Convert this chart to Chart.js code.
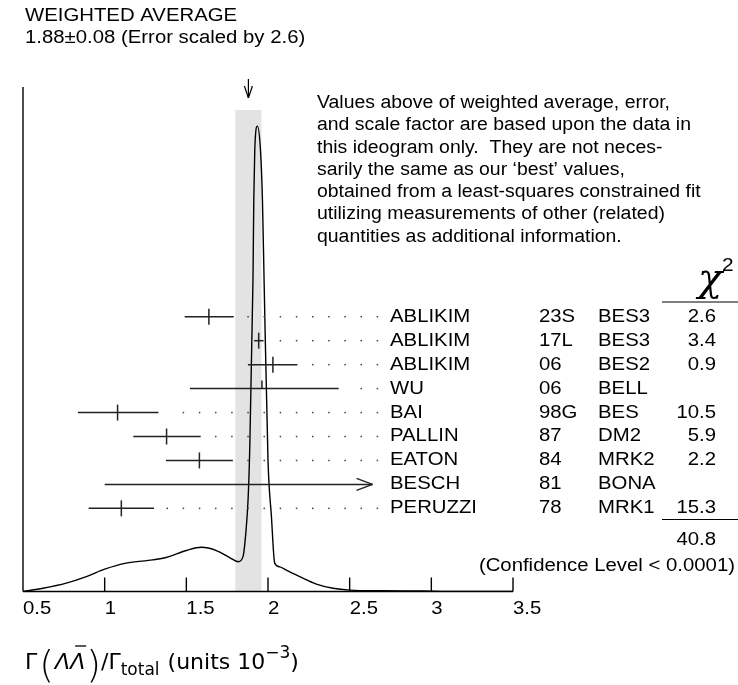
<!DOCTYPE html>
<html>
<head>
<meta charset="utf-8">
<script src="https://cdn.jsdelivr.net/npm/chart.js@4.4.1/dist/chart.umd.min.js"></script>
<style>
  html, body { margin: 0; padding: 0; background: #fff; }
  #wrap { width: 738px; height: 685px; position: relative; }
</style>
</head>
<body>
<div id="wrap"><canvas id="viz" width="738" height="685"></canvas></div>
<script>
// ideogram curve (relative density, peak = 100)
const curveX = [0.5, 0.622, 0.765, 0.888, 1.0, 1.131, 1.294, 1.376, 1.5, 1.592, 1.684, 1.765, 1.817, 1.847,
  1.864, 1.878, 1.888, 1.908, 1.913, 1.919, 1.935, 1.954, 1.966, 1.976, 2.0, 2.021, 2.041, 2.072, 2.112,
  2.194, 2.296, 2.398, 2.5, 2.704, 2.95, 3.1, 3.5];
const curveY = [0, 0.7, 1.8, 3.2, 4.8, 6.1, 6.8, 7.3, 8.8, 9.5, 8.8, 7.3, 6.4, 7.5,
  12.5, 19.7, 30.4, 66.9, 84.1, 94.8, 100, 94.8, 84.1, 66.9, 28.2, 16.1, 6.1, 5.3, 4.6,
  3.2, 1.6, 0.7, 0.3, 0.15, 0.1, 0, 0];

// measurements
const names  = ['ABLIKIM', 'ABLIKIM', 'ABLIKIM', 'WU', 'BAI', 'PALLIN', 'EATON', 'BESCH', 'PERUZZI'];
const years  = ['23S', '17L', '06', '06', '98G', '87', '84', '81', '78'];
const techs  = ['BES3', 'BES3', 'BES2', 'BELL', 'BES', 'DM2', 'MRK2', 'BONA', 'MRK1'];
const chi2   = ['2.6', '3.4', '0.9', '', '10.5', '5.9', '2.2', '', '15.3'];
const values = [1.638, 1.943, 2.03, 1.963, 1.079, 1.379, 1.58, null, 1.102];
const lowEdge  = [1.49, 1.915, 1.877, 1.522, 0.836, 1.175, 1.375, 1.0, 0.902];
const highEdge = [1.79, 1.973, 2.18, 2.433, 1.329, 1.588, 1.785, 2.64, 1.302];
const offScale = [false, false, false, false, false, false, false, true, false];
const halfTick = [false, false, false, true, false, false, false, false, false];

const avgValue = 1.88, avgError = 0.08;
const chi2Total = '40.8';
const xTicks = [0.5, 1, 1.5, 2, 2.5, 3, 3.5];
const xTickLabels = ['0.5', '1', '1.5', '2', '2.5', '3', '3.5'];

const noteLines = [
  'Values above of weighted average, error,',
  'and scale factor are based upon the data in',
  'this ideogram only.  They are not neces-',
  'sarily the same as our \u2018best\u2019 values,',
  'obtained from a least-squares constrained fit',
  'utilizing measurements of other (related)',
  'quantities as additional information.'
];

const FONT = '"Liberation Sans", Arial, sans-serif';
const SX = 1.13;

function txt(ctx, s, x, y, align = 'left', size = 18, sx = SX){
  ctx.save();
  ctx.translate(x, y);
  ctx.scale(sx, 1);
  ctx.font = `${size}px ${FONT}`;
  ctx.textAlign = align;
  ctx.textBaseline = 'middle';
  ctx.fillStyle = '#000';
  ctx.fillText(s, 0, 0);
  ctx.restore();
}

function seg(ctx, x1, y1, x2, y2){
  ctx.beginPath(); ctx.moveTo(x1, y1); ctx.lineTo(x2, y2); ctx.stroke();
}

const ideogram = {
  id: 'ideogram',
  beforeDatasetsDraw(chart){
    const { ctx, scales: { x } } = chart;
    const ca = chart.chartArea;
    ctx.save();
    ctx.fillStyle = '#e3e3e3';
    const l = x.getPixelForValue(avgValue - avgError), r = x.getPixelForValue(avgValue + avgError);
    ctx.fillRect(l, ca.top + 23, r - l, ca.bottom - ca.top - 23);
    ctx.restore();
  },
  afterDatasetsDraw(chart){
    const { ctx, scales: { x, yr } } = chart;
    const ca = chart.chartArea;
    ctx.save();
    ctx.strokeStyle = '#000';
    ctx.lineWidth = 1.4;
    // axes
    seg(ctx, ca.left, ca.top, ca.left, ca.bottom);
    seg(ctx, ca.left, ca.bottom, ca.right, ca.bottom);
    xTicks.forEach((t, i) => {
      const px = x.getPixelForValue(t);
      if (i > 0) seg(ctx, px, ca.bottom, px, ca.bottom - 14);
      txt(ctx, xTickLabels[i], px, ca.bottom + 18);
    });

    // measurements
    const dotEnd = x.getPixelForValue(2.67), dotStep = x.getPixelForValue(0.599) - x.getPixelForValue(0.5);
    names.forEach((n, i) => {
      const py = yr.getPixelForValue(i);
      const lo = x.getPixelForValue(lowEdge[i]), hi = x.getPixelForValue(highEdge[i]);
      ctx.strokeStyle = '#222';
      ctx.lineWidth = 1.5;
      seg(ctx, lo, py, hi, py);
      if (values[i] !== null){
        const pc = x.getPixelForValue(values[i]);
        seg(ctx, pc, py - 8, pc, halfTick[i] ? py : py + 8);
      }
      if (offScale[i]){
        seg(ctx, hi - 16, py - 6, hi, py);
        seg(ctx, hi - 16, py + 6, hi, py);
      } else {
        ctx.fillStyle = '#444';
        for (let px = dotEnd; px >= hi + 12; px -= dotStep) ctx.fillRect(px - 0.75, py - 0.75, 1.5, 1.5);
      }
      txt(ctx, n, 390, py);
      txt(ctx, years[i], 539, py);
      txt(ctx, techs[i], 598, py);
      if (chi2[i]) txt(ctx, chi2[i], 716, py, 'right');
    });

    // chi2 column
    ctx.strokeStyle = '#000';
    ctx.lineWidth = 1.2;
    seg(ctx, 662, 302, 738, 302);
    seg(ctx, 662, 519.5, 738, 519.5);
    ctx.fillStyle = '#000';
    ctx.font = 'italic 40px "DejaVu Serif", serif';
    ctx.textBaseline = 'alphabetic';
    ctx.textAlign = 'left';
    ctx.fillText('\u03c7', 698, 291);
    txt(ctx, '2', 722, 266, 'left', 19, 1.1);
    txt(ctx, chi2Total, 716, 540, 'right');
    txt(ctx, '(Confidence Level < 0.0001)', 735, 566, 'right');

    // weighted average header and arrow
    txt(ctx, 'WEIGHTED AVERAGE', 25, 16);
    txt(ctx, `${avgValue.toFixed(2)}\u00b1${avgError.toFixed(2)} (Error scaled by 2.6)`, 25, 38);
    const ax = x.getPixelForValue(avgValue);
    ctx.lineWidth = 1.2;
    seg(ctx, ax, 79, ax, 98);
    seg(ctx, ax - 4, 86, ax, 98);
    seg(ctx, ax + 4, 86, ax, 98);

    noteLines.forEach((s, i) => txt(ctx, s, 317, 103 + i * 22.3, 'left', 18, 1.08));

    // axis title
    let cx = 25;
    const base = 669;
    const put = (s, font, dy = 0) => {
      ctx.font = font;
      ctx.fillText(s, cx, base + dy);
      const w = ctx.measureText(s).width;
      cx += w;
      return w;
    };
    ctx.textBaseline = 'alphabetic';
    const MF = '"DejaVu Sans", sans-serif';
    put('\u0393', `22px ${MF}`);
    cx += 2;
    put('(', `200 38px ${MF}`, 8);
    cx += 1;
    put('\u039b', `italic 22px ${MF}`);
    const lx = cx;
    const wl = put('\u039b', `italic 22px ${MF}`);
    ctx.lineWidth = 1.3;
    seg(ctx, lx + 5, 646, lx + wl + 1, 646);
    cx += 1;
    put(')', `200 38px ${MF}`, 8);
    put('/\u0393', `22px ${MF}`);
    put('total', `17px ${MF}`, 6);
    cx += 8;
    put('(units 10', `22px ${MF}`);
    put('\u22123', `17px ${MF}`, -11);
    put(')', `22px ${MF}`);
    ctx.restore();
  }
};

const chart = new Chart(document.getElementById('viz').getContext('2d'), {
  type: 'scatter',
  data: {
    datasets: [{
      data: curveX.map((v, i) => ({ x: v, y: curveY[i] })),
      showLine: true,
      borderColor: '#000',
      borderWidth: 1.4,
      pointRadius: 0,
      cubicInterpolationMode: 'monotone',
      yAxisID: 'y'
    }]
  },
  options: {
    responsive: false,
    animation: false,
    devicePixelRatio: 1,
    layout: { padding: { left: 23, right: 225, top: 87, bottom: 93.5 } },
    plugins: { legend: { display: false }, tooltip: { enabled: false } },
    scales: {
      x: { type: 'linear', min: 0.5, max: 3.5, display: false },
      y: { type: 'linear', min: 0, max: 108.4, display: false },
      yr: { type: 'linear', min: -9.59, max: 11.47, reverse: true, display: false }
    }
  },
  plugins: [ideogram]
});
</script>
</body>
</html>
